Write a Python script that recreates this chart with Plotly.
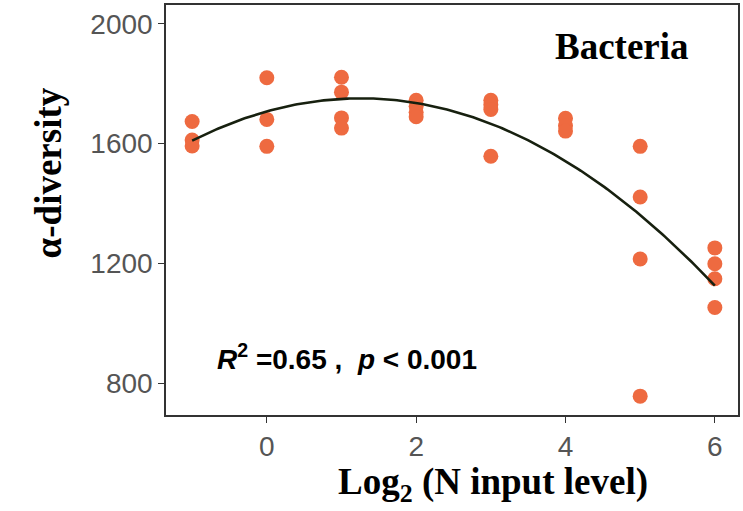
import numpy as np
import plotly.graph_objects as go

# log2 N input level for each sample
n_level = [-1, -1, -1,
           0, 0, 0,
           1, 1, 1, 1,
           2, 2, 2, 2,
           3, 3, 3, 3,
           4, 4, 4,
           5, 5, 5, 5,
           6, 6, 6, 6]
# bacterial alpha-diversity for each sample
alpha_div = [1674, 1612, 1592,
             1820, 1681, 1591,
             1822, 1772, 1686, 1652,
             1745, 1725, 1705, 1690,
             1745, 1730, 1714, 1558,
             1685, 1660, 1642,
             1591, 1422, 1215, 757,
             1252, 1199, 1149, 1053]

x_ticks = [0, 2, 4, 6]
y_ticks = [800, 1200, 1600, 2000]

# quadratic regression curve
coef = np.polyfit(n_level, alpha_div, 2)
xs = np.linspace(min(n_level), max(n_level), 200)
ys = np.polyval(coef, xs)

W, H = 743, 511
L, R, T, B = 166, 4, 3, 96

fig = go.Figure()
fig.add_trace(go.Scatter(
    x=n_level, y=alpha_div, mode="markers",
    marker=dict(color="#EE6A40", size=15, line=dict(width=0)),
    showlegend=False, hoverinfo="skip"))
fig.add_trace(go.Scatter(
    x=xs, y=ys, mode="lines",
    line=dict(color="#17200f", width=2.6),
    showlegend=False, hoverinfo="skip"))

axis_common = dict(
    showgrid=False, zeroline=False, showline=True, mirror=True,
    linecolor="#333333", linewidth=1.5,
    ticks="outside", ticklen=6, tickwidth=1.2, tickcolor="#333333",
    tickfont=dict(family="Liberation Sans, Arial", size=28, color="#555555"),
)
fig.update_xaxes(range=[-1.35, 6.31], tickvals=x_ticks, **axis_common)
fig.update_yaxes(range=[694, 2063], tickvals=y_ticks, **axis_common)

def px_x(p):
    return (p - L) / (W - L - R)

def px_y(p):
    return 1 - (p - T) / (H - T - B)

fig.add_annotation(
    x=4.75, y=1924, xref="x", yref="y", showarrow=False,
    xanchor="center", yanchor="middle",
    text="<b>Bacteria</b>",
    font=dict(family="Liberation Serif, Times New Roman", size=37, color="black"))
fig.add_annotation(
    x=-0.70, y=887, xref="x", yref="y", showarrow=False,
    xanchor="left", yanchor="middle",
    text="<b><i>R</i><sup>2</sup> =0.65 ,  <i>p</i> < 0.001</b>",
    font=dict(family="Liberation Sans, Arial", size=28, color="black"))
fig.add_annotation(
    x=px_x(494), y=px_y(485), xref="paper", yref="paper", showarrow=False,
    xanchor="center", yanchor="middle",
    text="<b>Log<sub>2</sub> (N input level)</b>",
    font=dict(family="Liberation Serif, Times New Roman", size=37, color="black"))
fig.add_annotation(
    x=px_x(48), y=px_y(172), xref="paper", yref="paper", showarrow=False,
    xanchor="center", yanchor="middle", textangle=-90,
    text="<b>α-diversity</b>",
    font=dict(family="Liberation Serif, Times New Roman", size=37, color="black"))

fig.update_layout(
    width=W, height=H,
    margin=dict(l=L, r=R, t=T, b=B),
    paper_bgcolor="white", plot_bgcolor="white",
)

fig.write_html("out.html")
